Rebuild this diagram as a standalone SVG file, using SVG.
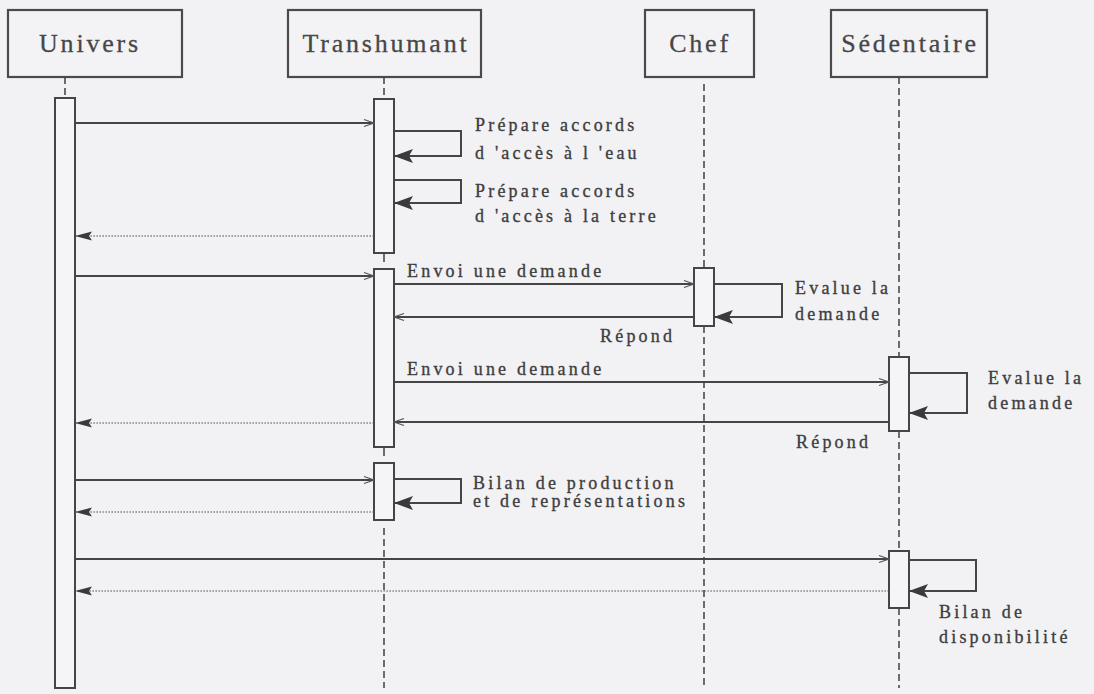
<svg xmlns="http://www.w3.org/2000/svg" width="1094" height="694" viewBox="0 0 1094 694">
<style>
.bg{fill:#f2f2f5}
.hdr{fill:#f3f3f6;stroke:#4a4a4a;stroke-width:2.2}
.act{fill:#f5f5f8;stroke:#454545;stroke-width:2}
.life{stroke:#4a4a4a;stroke-width:1.6;stroke-dasharray:7 4;fill:none}
.stub{stroke:#4a4a4a;stroke-width:1.6;fill:none}
.msg{stroke:#454545;stroke-width:2;fill:none}
.loop{stroke:#454545;stroke-width:2;fill:none}
.ret{stroke:#555;stroke-width:1.1;stroke-dasharray:1.6 1.4;fill:none}
.ht{font-family:"Liberation Serif",serif;font-size:26px;letter-spacing:2.8px;fill:#474747;stroke:#474747;stroke-width:0.3;text-anchor:middle}
.lt{font-family:"Liberation Serif",serif;font-size:18px;letter-spacing:3.2px;fill:#3e3e3e;stroke:#3e3e3e;stroke-width:0.35}
</style>
<defs>
<marker id="open" markerUnits="userSpaceOnUse" markerWidth="12" markerHeight="10" refX="11" refY="5" orient="auto">
<path d="M1,1.5 L11,5 L1,8.5" fill="none" stroke="#555" stroke-width="1.3"/>
</marker>
<marker id="solid" markerUnits="userSpaceOnUse" markerWidth="20" markerHeight="16" refX="19" refY="8" orient="auto">
<path d="M0,1 L19,8 L0,15 L4,8 z" fill="#3a3a3a"/>
</marker>
<marker id="solidS" markerUnits="userSpaceOnUse" markerWidth="18" markerHeight="10" refX="17" refY="5" orient="auto">
<path d="M0,0.5 L17,5 L0,9.5 L3,5 z" fill="#3a3a3a"/>
</marker>
</defs>
<rect class="bg" x="0" y="0" width="1094" height="694"/>

<g id="univers">
<rect class="hdr" x="8" y="10" width="174" height="67"/>
<text class="ht" x="90" y="52">Univers</text>
<line class="life" x1="65" y1="77" x2="65" y2="98"/>
<rect class="act" x="55" y="98" width="20" height="590"/>
</g>

<g id="transhumant">
<rect class="hdr" x="288" y="10" width="193" height="67"/>
<text class="ht" x="386" y="52">Transhumant</text>
<line class="life" x1="384" y1="77" x2="384" y2="99"/>
<rect class="act" x="374" y="99" width="20" height="154"/>
<line class="stub" x1="384" y1="253" x2="384" y2="262"/>
<rect class="act" x="374" y="269" width="20" height="178"/>
<line class="stub" x1="384" y1="447" x2="384" y2="456"/>
<rect class="act" x="374" y="463" width="20" height="57"/>
<line class="life" x1="384" y1="528" x2="384" y2="688"/>
</g>

<g id="chef">
<rect class="hdr" x="645" y="10" width="109" height="67"/>
<text class="ht" x="700" y="52">Chef</text>
<line class="life" x1="704" y1="84" x2="704" y2="268"/>
<rect class="act" x="694" y="268" width="20" height="58"/>
<line class="life" x1="704" y1="326" x2="704" y2="688"/>
</g>

<g id="sedentaire">
<rect class="hdr" x="831" y="10" width="156" height="67"/>
<text class="ht" x="910" y="52">Sédentaire</text>
<line class="life" x1="899" y1="77" x2="899" y2="357"/>
<rect class="act" x="889" y="357" width="20" height="74"/>
<line class="life" x1="899" y1="431" x2="899" y2="551"/>
<rect class="act" x="889" y="551" width="20" height="57"/>
<line class="life" x1="899" y1="608" x2="899" y2="688"/>
</g>

<g id="connectors">
<line class="msg" x1="75" y1="123" x2="374" y2="123" marker-end="url(#open)"/>
<path class="loop" d="M394,131 H461 V156 H394" marker-end="url(#solid)"/>
<path class="loop" d="M394,180 H461 V203 H394" marker-end="url(#solid)"/>
<line class="ret" x1="374" y1="236" x2="75" y2="236" marker-end="url(#solidS)"/>
<line class="msg" x1="75" y1="276" x2="374" y2="276" marker-end="url(#open)"/>
<line class="msg" x1="394" y1="284" x2="694" y2="284" marker-end="url(#open)"/>
<path class="loop" d="M714,284 H782 V317 H714" marker-end="url(#solid)"/>
<line class="msg" x1="694" y1="317" x2="394" y2="317" marker-end="url(#open)"/>
<line class="msg" x1="394" y1="382" x2="889" y2="382" marker-end="url(#open)"/>
<path class="loop" d="M909,373 H967 V413 H909" marker-end="url(#solid)"/>
<line class="msg" x1="889" y1="422" x2="394" y2="422" marker-end="url(#open)"/>
<line class="ret" x1="374" y1="423" x2="75" y2="423" marker-end="url(#solidS)"/>
<line class="msg" x1="75" y1="480" x2="374" y2="480" marker-end="url(#open)"/>
<path class="loop" d="M394,479 H461 V503 H394" marker-end="url(#solid)"/>
<line class="ret" x1="374" y1="512" x2="75" y2="512" marker-end="url(#solidS)"/>
<line class="msg" x1="75" y1="559" x2="889" y2="559" marker-end="url(#open)"/>
<path class="loop" d="M909,560 H976 V591 H909" marker-end="url(#solid)"/>
<line class="ret" x1="889" y1="591" x2="75" y2="591" marker-end="url(#solidS)"/>
</g>

<g id="labels">
<text class="lt" x="475" y="131">Prépare accords</text>
<text class="lt" x="475" y="159">d 'accès à l 'eau</text>
<text class="lt" x="475" y="197">Prépare accords</text>
<text class="lt" x="475" y="222">d 'accès à la terre</text>
<text class="lt" x="407" y="277">Envoi une demande</text>
<text class="lt" x="795" y="294">Evalue la</text>
<text class="lt" x="795" y="320">demande</text>
<text class="lt" x="600" y="342">Répond</text>
<text class="lt" x="407" y="375">Envoi une demande</text>
<text class="lt" x="988" y="384">Evalue la</text>
<text class="lt" x="988" y="409">demande</text>
<text class="lt" x="796" y="448">Répond</text>
<text class="lt" x="473" y="489">Bilan de production</text>
<text class="lt" x="473" y="507">et de représentations</text>
<text class="lt" x="939" y="618">Bilan de</text>
<text class="lt" x="939" y="643">disponibilité</text>
</g>
</svg>
